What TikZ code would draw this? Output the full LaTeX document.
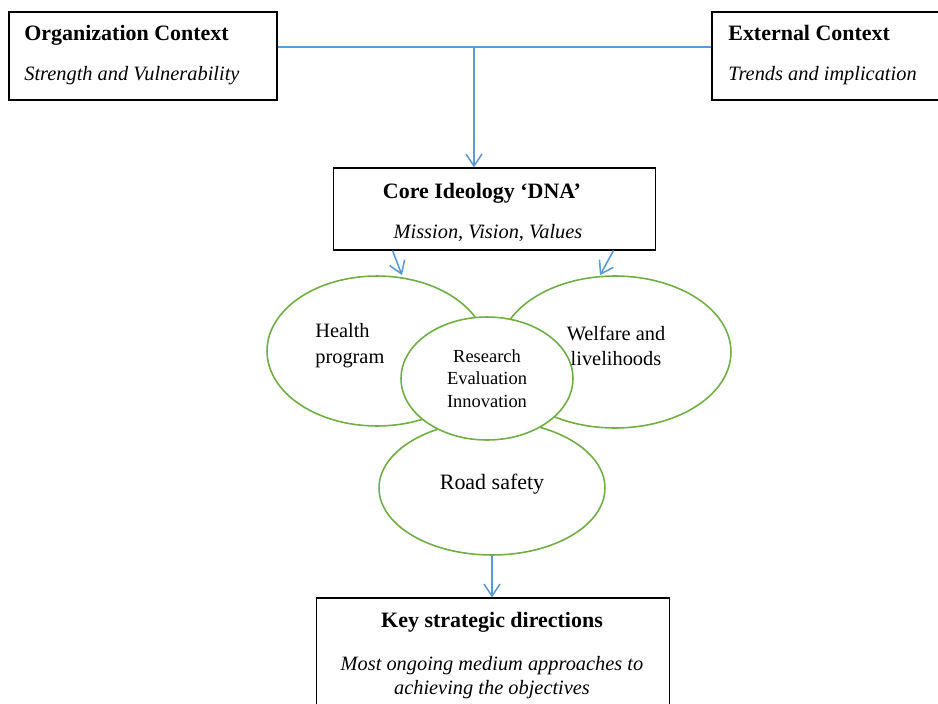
\documentclass[tikz,border=0pt]{standalone}
\usepackage{fontspec}
\setmainfont{Liberation Serif}
\usetikzlibrary{arrows.meta,shapes.geometric}
\definecolor{linkblue}{RGB}{91,155,213}
\definecolor{leafgreen}{RGB}{112,173,71}
\begin{document}
\begin{tikzpicture}[x=0.02cm, y=-0.02cm, >={Straight Barb[length=2.4mm, width=3.2mm]},
        box/.style={draw, line width=0.6pt, inner sep=0pt},
        blob/.style={draw=leafgreen, line width=0.9pt, ellipse, fill=white, inner sep=0pt},
        link/.style={draw=linkblue, line width=0.9pt},
        title/.style={font=\fontsize{12.5}{15}\selectfont\bfseries, inner sep=0pt},
        sub/.style={font=\fontsize{11.6}{13.6}\selectfont\itshape, inner sep=0pt},
        plain/.style={font=\fontsize{11.6}{14.7}\selectfont, inner sep=0pt}]
        \useasboundingbox (0,0) rectangle (938,704);

        % Context boxes
        \node[box, minimum width=5.36cm, minimum height=1.76cm] (org) at (143,56) {};
        \node[title, anchor=base west] (orgtitle) at (24,40) {Organization Context};
        \node[sub, anchor=base west] (orgsub) at (24,80) {Strength and Vulnerability};

        \node[box, minimum width=4.66cm, minimum height=1.76cm] (ext) at (828.5,56) {};
        \node[title, anchor=base west] (exttitle) at (728,40) {External Context};
        \node[sub, anchor=base west] (extsub) at (728,80) {Trends and implication};

        % Core ideology
        \node[box, minimum width=6.46cm, minimum height=1.64cm] (core) at (494.5,209) {};
        \node[title, anchor=base] (coretitle) at (482,198) {Core Ideology ‘DNA’};
        \node[sub, anchor=base] (coresub) at (488,238) {Mission, Vision, Values};

        \coordinate (join) at (474,47);
        \draw[link] (org.east |- join) -- (ext.west |- join);
        \draw[link, ->] (join) -- (join |- core.north);

        % Programme areas
        \node[blob, minimum width=4.4cm, minimum height=3cm] (health) at (377,351) {};
        \node[blob, minimum width=4.64cm, minimum height=3.04cm] (welfare) at (615,352) {};
        \node[blob, minimum width=4.52cm, minimum height=2.68cm] (road) at (492,488) {};
        \node[blob, minimum width=3.44cm, minimum height=2.46cm, align=center,
              font=\fontsize{10.5}{12.8}\selectfont] (research) at (487,378.5) {Research\\Evaluation\\Innovation};

        \node[plain, align=left, anchor=west] (healthtext) at (315,346) {Health\\program};
        \node[plain, align=center] (welfaretext) at (616,346) {Welfare and\\livelihoods};
        \node[plain, font=\fontsize{12.5}{15}\selectfont] (roadtext) at (492,484) {Road safety};

        \draw[link, ->] ([xshift=1.2cm]core.south west) -- ([xshift=0.5cm]health.north);
        \draw[link, ->] ([xshift=-0.86cm]core.south east) -- ([xshift=-0.3cm]welfare.north);

        % Key directions
        \node[box, minimum width=7.08cm, minimum height=2.28cm] (key) at (493,655) {};
        \node[title, anchor=base] (keytitle) at (492,627) {Key strategic directions};
        \node[sub, align=center] (keysub) at (492,678)
            {Most ongoing medium approaches to\\achieving the objectives};

        \draw[link, ->] (road.south) -- (road.south |- key.north);
\end{tikzpicture}
\end{document}
